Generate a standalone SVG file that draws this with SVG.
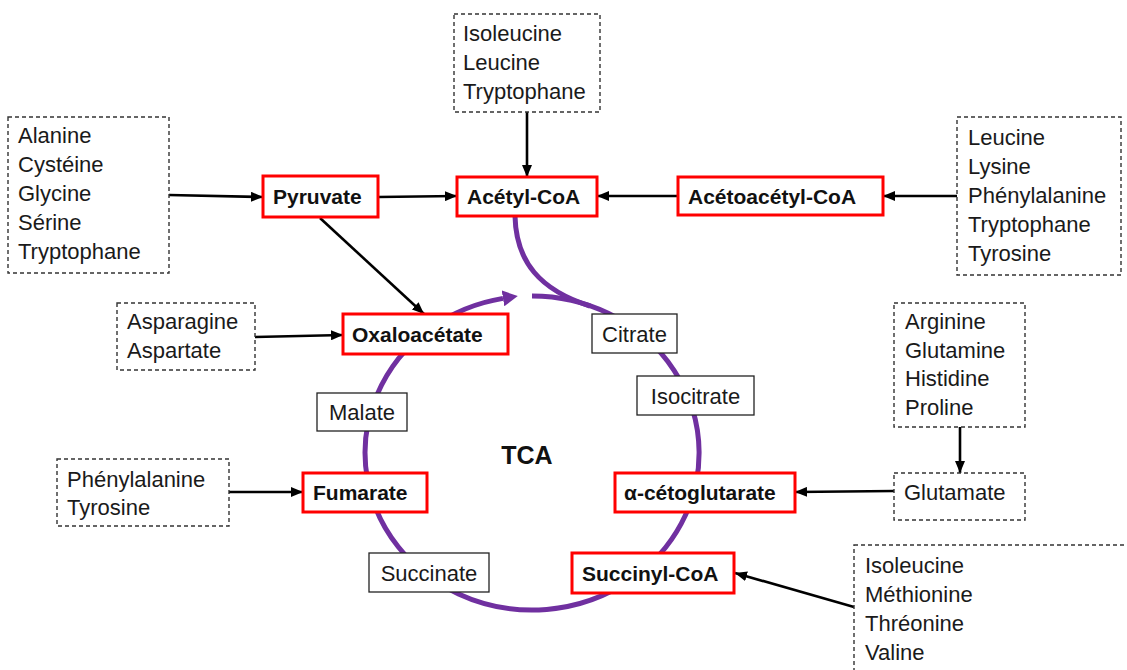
<svg xmlns="http://www.w3.org/2000/svg" width="1127" height="670" viewBox="0 0 1127 670">
<style>
.dash{fill:#fff;stroke:#333;stroke-width:1.4;stroke-dasharray:4 3}
.red{fill:#fff;stroke:#f00;stroke-width:3}
.mid{fill:#fff;stroke:#222;stroke-width:1.3}
.t{font-family:"Liberation Sans",Arial,sans-serif;font-size:22px;fill:#1a1a1a}
.b{font-family:"Liberation Sans",Arial,sans-serif;font-size:21px;font-weight:bold;fill:#111}
.c{text-anchor:middle}
.arr{stroke:#000;stroke-width:2.6;fill:none;marker-end:url(#ah)}
.cyc{stroke:#7030A0;stroke-width:5;fill:none}
</style>
<defs>
<marker id="ah" markerUnits="userSpaceOnUse" markerWidth="12" markerHeight="10" refX="12" refY="5" orient="auto"><path d="M0,0 L12,5 L0,10 z" fill="#000"/></marker>
<marker id="ph" markerUnits="userSpaceOnUse" markerWidth="15" markerHeight="16" refX="0" refY="8" orient="auto"><path d="M0,0 L15,8 L0,16 z" fill="#7030A0"/></marker>
</defs>
<rect width="1127" height="670" fill="#fff"/>
<g id="cycle">
<path class="cyc" d="M532,296 A167,157 0 1 1 503,298.4" marker-end="url(#ph)"/>
<path class="cyc" d="M515,216 C516,262 540,290 590,306"/>
<text class="b c" x="527" y="464" style="font-size:25px">TCA</text>
</g>
<g id="connectors">
<line class="arr" x1="169" y1="195" x2="263" y2="197"/>
<line class="arr" x1="378" y1="197" x2="457" y2="196"/>
<line class="arr" x1="527" y1="112" x2="527" y2="177"/>
<line class="arr" x1="678" y1="196" x2="597" y2="196"/>
<line class="arr" x1="957" y1="196" x2="883" y2="196"/>
<line class="arr" x1="320" y1="218" x2="424" y2="314"/>
<line class="arr" x1="255" y1="337" x2="343" y2="335"/>
<line class="arr" x1="960" y1="427" x2="960" y2="473"/>
<line class="arr" x1="894" y1="491" x2="795" y2="492"/>
<line class="arr" x1="229" y1="492" x2="303" y2="492"/>
<line class="arr" x1="854" y1="607" x2="735" y2="573"/>
</g>
<g id="src-top"><rect class="dash" x="454" y="14" width="146" height="98"/>
<text class="t" x="463" y="41">Isoleucine</text><text class="t" x="463" y="70">Leucine</text><text class="t" x="463" y="99">Tryptophane</text></g>
<g id="src-left"><rect class="dash" x="8" y="117" width="161" height="156"/>
<text class="t" x="18" y="143">Alanine</text><text class="t" x="18" y="172">Cystéine</text><text class="t" x="18" y="201">Glycine</text><text class="t" x="18" y="230">Sérine</text><text class="t" x="18" y="259">Tryptophane</text></g>
<g id="src-right"><rect class="dash" x="957" y="117" width="164" height="158"/>
<text class="t" x="968" y="145">Leucine</text><text class="t" x="968" y="174">Lysine</text><text class="t" x="968" y="203">Phénylalanine</text><text class="t" x="968" y="232">Tryptophane</text><text class="t" x="968" y="261">Tyrosine</text></g>
<g id="src-asp"><rect class="dash" x="117" y="303" width="138" height="67"/>
<text class="t" x="127" y="329">Asparagine</text><text class="t" x="127" y="358">Aspartate</text></g>
<g id="src-arg"><rect class="dash" x="894" y="303" width="131" height="124"/>
<text class="t" x="905" y="329">Arginine</text><text class="t" x="905" y="358">Glutamine</text><text class="t" x="905" y="386">Histidine</text><text class="t" x="905" y="415">Proline</text></g>
<g id="glutamate"><rect class="dash" x="894" y="473" width="131" height="47"/>
<text class="t" x="904" y="500">Glutamate</text></g>
<g id="src-phe"><rect class="dash" x="57" y="459" width="172" height="67"/>
<text class="t" x="67" y="487">Phénylalanine</text><text class="t" x="67" y="515">Tyrosine</text></g>
<g id="src-bottom"><rect class="dash" x="854" y="545" width="280" height="130"/>
<text class="t" x="865" y="573">Isoleucine</text><text class="t" x="865" y="602">Méthionine</text><text class="t" x="865" y="631">Thréonine</text><text class="t" x="865" y="660">Valine</text></g>
<g id="pyruvate"><rect class="red" x="263" y="176" width="115" height="41"/><text class="b" x="273" y="204">Pyruvate</text></g>
<g id="acetylcoa"><rect class="red" x="457" y="177" width="140" height="39"/><text class="b" x="467" y="204">Acétyl-CoA</text></g>
<g id="acetoacetylcoa"><rect class="red" x="678" y="177" width="205" height="38"/><text class="b" x="688" y="204">Acétoacétyl-CoA</text></g>
<g id="oxaloacetate"><rect class="red" x="343" y="314" width="165" height="40"/><text class="b" x="352" y="342">Oxaloacétate</text></g>
<g id="fumarate"><rect class="red" x="303" y="473" width="124" height="39"/><text class="b" x="313" y="500">Fumarate</text></g>
<g id="akg"><rect class="red" x="615" y="473" width="180" height="39"/><text class="b" x="624" y="500">α-cétoglutarate</text></g>
<g id="succinylcoa"><rect class="red" x="572" y="553" width="162" height="40"/><text class="b" x="582" y="581">Succinyl-CoA</text></g>
<g id="citrate"><rect class="mid" x="592" y="314" width="85" height="39"/><text class="t c" x="634.5" y="342">Citrate</text></g>
<g id="isocitrate"><rect class="mid" x="637" y="376" width="117" height="39"/><text class="t c" x="695.5" y="404">Isocitrate</text></g>
<g id="malate"><rect class="mid" x="317" y="393" width="90" height="38"/><text class="t c" x="362" y="420">Malate</text></g>
<g id="succinate"><rect class="mid" x="369" y="553" width="120" height="39"/><text class="t c" x="429" y="581">Succinate</text></g>
</svg>
